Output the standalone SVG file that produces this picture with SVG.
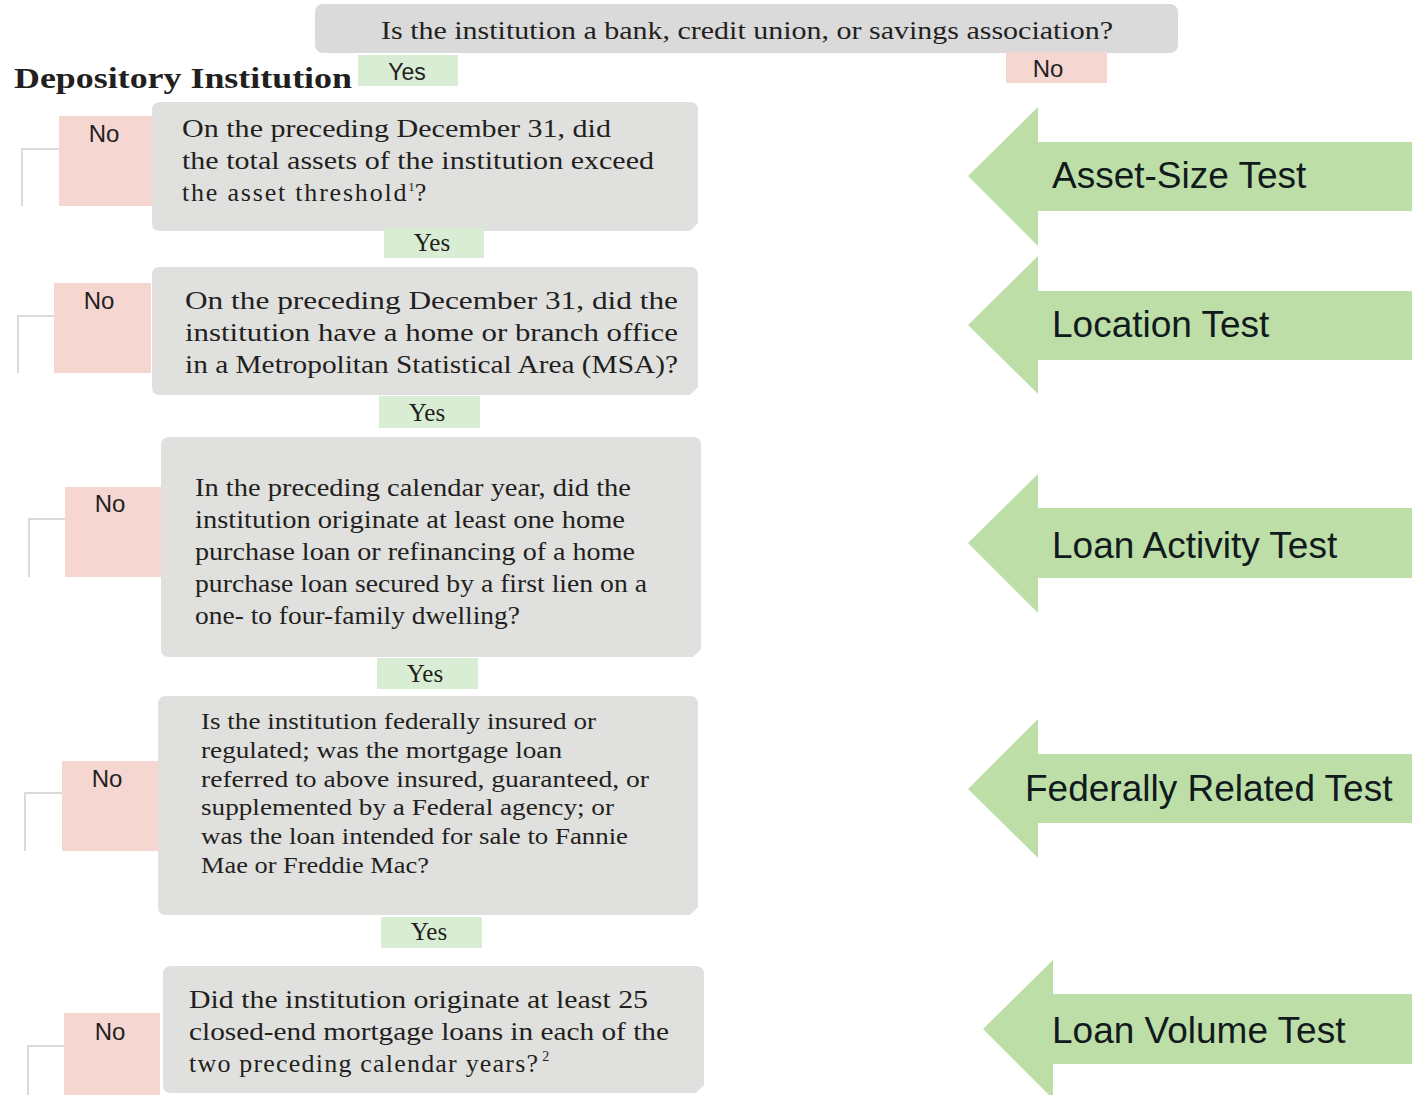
<svg xmlns="http://www.w3.org/2000/svg" width="1412" height="1095" viewBox="0 0 1412 1095">
<style>
.q{fill:#e0e1df}
.yes{fill:#d9edd5}
.no{fill:#f5d6d1}
.arrow{fill:#bddfa7}
.conn{fill:none;stroke:#dadada;stroke-width:2}
.serif{font-family:"Liberation Serif","Times New Roman",serif;font-size:26px;fill:#231f20}
.small{font-size:23px}
.sup{font-size:13px}
.sans{font-family:"Liberation Sans",Arial,sans-serif;font-size:24px;fill:#222}
.big{font-family:"Liberation Sans",Arial,sans-serif;font-size:37px;fill:#111a1c}
.ylab{font-family:"Liberation Serif","Times New Roman",serif;font-size:25px;fill:#231f20;text-anchor:middle}
</style>
<rect width="1412" height="1095" fill="#fff"/>
<g id="connectors">
<path class="conn" d="M22,206 V149 H59"/>
<path class="conn" d="M18,373 V316 H54"/>
<path class="conn" d="M29,577 V519 H65"/>
<path class="conn" d="M25,851 V793 H62"/>
<path class="conn" d="M28,1095 V1046 H64"/>
</g>
<g id="start">
<rect x="315" y="4" width="863" height="49" rx="8" fill="#dadada"/>
<text class="serif" x="381" y="39" textLength="732" lengthAdjust="spacingAndGlyphs">Is the institution a bank, credit union, or savings association?</text>
</g>
<g id="title">
<text x="14" y="88" font-family="Liberation Serif, Times New Roman, serif" font-size="29" font-weight="bold" fill="#231f20" textLength="338" lengthAdjust="spacingAndGlyphs">Depository Institution</text>
</g>
<g id="yes0"><rect class="yes" x="358" y="55" width="100" height="31"/><text class="sans" x="407" y="80" text-anchor="middle" style="font-size:23px">Yes</text></g>
<g id="no0"><rect class="no" x="1006" y="52" width="101" height="31"/><text class="sans" x="1048" y="77" text-anchor="middle">No</text></g>

<g id="no1"><rect class="no" x="59" y="116" width="95" height="90"/><text class="sans" x="104" y="142" text-anchor="middle">No</text></g>
<g id="q1">
<path class="q" d="M160,102 H690 Q698,102 698,110 V223 L690,231 H160 Q152,231 152,223 V110 Q152,102 160,102Z"/>
<text class="serif" x="182" y="137" textLength="429" lengthAdjust="spacingAndGlyphs">On the preceding December 31, did</text>
<text class="serif" x="182" y="169" textLength="472" lengthAdjust="spacingAndGlyphs">the total assets of the institution exceed</text>
<text class="serif" x="182" y="201" style="letter-spacing:1.8px">the asset threshold<tspan class="sup" dy="-10" style="letter-spacing:0">1</tspan><tspan dy="10">?</tspan></text>
</g>
<g id="yes1"><rect class="yes" x="384" y="228" width="100" height="30"/><text class="ylab" x="432" y="251">Yes</text></g>

<g id="no2"><rect class="no" x="54" y="283" width="97" height="90"/><text class="sans" x="99" y="309" text-anchor="middle">No</text></g>
<g id="q2">
<path class="q" d="M160,267 H690 Q698,267 698,275 V387 L690,395 H160 Q152,395 152,387 V275 Q152,267 160,267Z"/>
<text class="serif" x="185" y="309" textLength="493" lengthAdjust="spacingAndGlyphs">On the preceding December 31, did the</text>
<text class="serif" x="185" y="341" textLength="493" lengthAdjust="spacingAndGlyphs">institution have a home or branch office</text>
<text class="serif" x="185" y="373" textLength="493" lengthAdjust="spacingAndGlyphs">in a Metropolitan Statistical Area (MSA)?</text>
</g>
<g id="yes2"><rect class="yes" x="379" y="396" width="101" height="32"/><text class="ylab" x="427" y="421">Yes</text></g>

<g id="no3"><rect class="no" x="65" y="487" width="97" height="90"/><text class="sans" x="110" y="512" text-anchor="middle">No</text></g>
<g id="q3">
<path class="q" d="M169,437 H693 Q701,437 701,445 V649 L693,657 H169 Q161,657 161,649 V445 Q161,437 169,437Z"/>
<text class="serif" x="195" y="496" textLength="436" lengthAdjust="spacingAndGlyphs">In the preceding calendar year, did the</text>
<text class="serif" x="195" y="528" textLength="430" lengthAdjust="spacingAndGlyphs">institution originate at least one home</text>
<text class="serif" x="195" y="560" textLength="440" lengthAdjust="spacingAndGlyphs">purchase loan or refinancing of a home</text>
<text class="serif" x="195" y="592" textLength="452" lengthAdjust="spacingAndGlyphs">purchase loan secured by a first lien on a</text>
<text class="serif" x="195" y="624" textLength="325" lengthAdjust="spacingAndGlyphs">one- to four-family dwelling?</text>
</g>
<g id="yes3"><rect class="yes" x="377" y="658" width="101" height="31"/><text class="ylab" x="425" y="682">Yes</text></g>

<g id="no4"><rect class="no" x="62" y="761" width="97" height="90"/><text class="sans" x="107" y="787" text-anchor="middle">No</text></g>
<g id="q4">
<path class="q" d="M166,696 H690 Q698,696 698,704 V907 L690,915 H166 Q158,915 158,907 V704 Q158,696 166,696Z"/>
<text class="serif small" x="201" y="729" textLength="395" lengthAdjust="spacingAndGlyphs">Is the institution federally insured or</text>
<text class="serif small" x="201" y="758" textLength="361" lengthAdjust="spacingAndGlyphs">regulated; was the mortgage loan</text>
<text class="serif small" x="201" y="787" textLength="448" lengthAdjust="spacingAndGlyphs">referred to above insured, guaranteed, or</text>
<text class="serif small" x="201" y="815" textLength="413" lengthAdjust="spacingAndGlyphs">supplemented by a Federal agency; or</text>
<text class="serif small" x="201" y="844" textLength="427" lengthAdjust="spacingAndGlyphs">was the loan intended for sale to Fannie</text>
<text class="serif small" x="201" y="873" textLength="228" lengthAdjust="spacingAndGlyphs">Mae or Freddie Mac?</text>
</g>
<g id="yes4"><rect class="yes" x="381" y="917" width="101" height="31"/><text class="ylab" x="429" y="940">Yes</text></g>

<g id="no5"><rect class="no" x="64" y="1013" width="96" height="82"/><text class="sans" x="110" y="1040" text-anchor="middle">No</text></g>
<g id="q5">
<path class="q" d="M171,966 H696 Q704,966 704,974 V1085 L696,1093 H171 Q163,1093 163,1085 V974 Q163,966 171,966Z"/>
<text class="serif" x="189" y="1008" textLength="459" lengthAdjust="spacingAndGlyphs">Did the institution originate at least 25</text>
<text class="serif" x="189" y="1040" textLength="480" lengthAdjust="spacingAndGlyphs">closed-end mortgage loans in each of the</text>
<text class="serif" x="189" y="1072" style="letter-spacing:1.2px">two preceding calendar years?<tspan class="sup" dx="3" dy="-11" style="font-size:14px;letter-spacing:0">2</tspan></text>
</g>

<g id="test1"><polygon class="arrow" points="968,176 1038,107 1038,142 1412,142 1412,211 1038,211 1038,246"/><text class="big" x="1052" y="188">Asset-Size Test</text></g>
<g id="test2"><polygon class="arrow" points="968,325 1038,256 1038,291 1412,291 1412,360 1038,360 1038,394"/><text class="big" x="1052" y="337">Location Test</text></g>
<g id="test3"><polygon class="arrow" points="968,543 1038,474 1038,508 1412,508 1412,578 1038,578 1038,613"/><text class="big" x="1052" y="558">Loan Activity Test</text></g>
<g id="test4"><polygon class="arrow" points="968,789 1038,719 1038,754 1412,754 1412,823 1038,823 1038,858"/><text class="big" x="1025" y="801">Federally Related Test</text></g>
<g id="test5"><polygon class="arrow" points="983,1029 1053,960 1053,994 1412,994 1412,1064 1053,1064 1053,1099"/><text class="big" x="1052" y="1043">Loan Volume Test</text></g>
</svg>
